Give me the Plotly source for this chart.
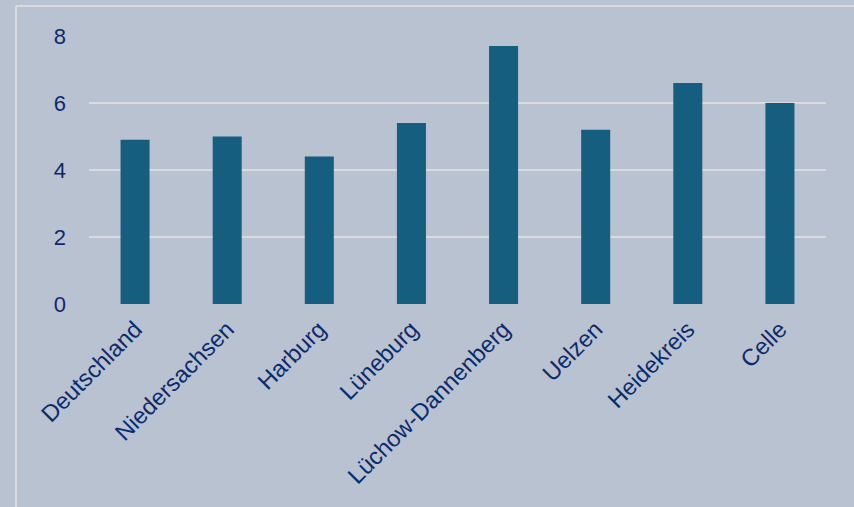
import plotly.graph_objects as go

categories = ["Deutschland", "Niedersachsen", "Harburg", "Lüneburg",
              "Lüchow-Dannenberg", "Uelzen", "Heidekreis", "Celle"]
values = [4.9, 5.0, 4.4, 5.4, 7.7, 5.2, 6.6, 6.0]
y_ticks = [0, 2, 4, 6, 8]

BG = "#b8c2d1"
BAR = "#165e80"
TEXT = "#0c2b6b"
GRID = "#d9dbdf"

fig = go.Figure(go.Bar(x=categories, y=values, marker_color=BAR,
                       marker_line_width=0))

fig.update_layout(
    width=854, height=507,
    paper_bgcolor=BG, plot_bgcolor=BG,
    margin=dict(l=89, r=28, t=36, b=203),
    bargap=0.685,
    showlegend=False,
    font=dict(family="Liberation Sans, Arial, sans-serif", size=22, color=TEXT),
    xaxis=dict(tickangle=-45, showgrid=False, showline=False, zeroline=False,
               ticks="", ticklabelstandoff=6,
               tickfont=dict(size=23.5, color=TEXT)),
    yaxis=dict(range=[0, 8], tickvals=y_ticks, showgrid=True, gridcolor=GRID,
               gridwidth=2, zeroline=False, showline=False, ticks="",
               ticklabelstandoff=22, tickfont=dict(size=22, color=TEXT)),
)

# frame lines (top and left) of the chart area
fx = (16 - 89) / 737
fy = (304 - 6) / 268
fig.add_shape(type="line", xref="paper", yref="paper",
              x0=fx, x1=1.2, y0=fy, y1=fy,
              line=dict(color=GRID, width=2))
fig.add_shape(type="line", xref="paper", yref="paper",
              x0=fx, x1=fx, y0=fy, y1=-1.0,
              line=dict(color=GRID, width=2))

fig.write_html("out.html", config={"displayModeBar": False},
               post_script="document.body.style.margin='0';document.body.style.overflow='hidden';")
